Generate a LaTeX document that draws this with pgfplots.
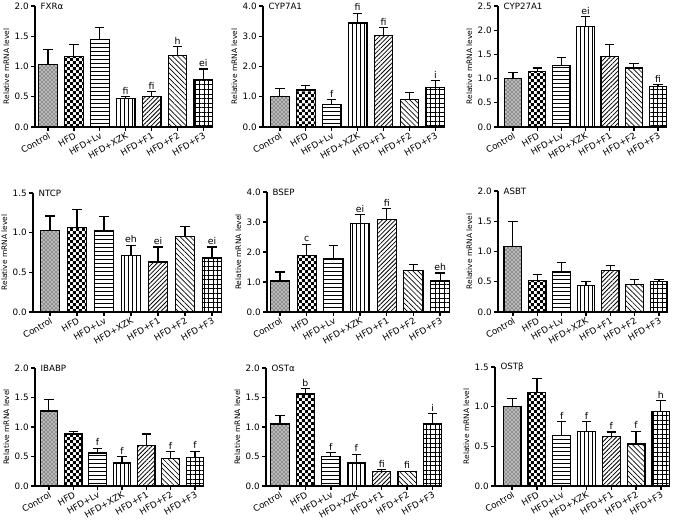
\documentclass[border=0pt]{standalone}
\usepackage{pgfplots}
\usepackage{pgfplotstable}
\pgfplotsset{compat=1.18}
\usetikzlibrary{patterns,patterns.meta}
\usepackage{fontspec}
\setmainfont{DejaVu Sans}

% small checkerboard for the HFD bars
\pgfdeclarepatternformonly{smallchecker}{\pgfpointorigin}{\pgfqpoint{4.4pt}{4.4pt}}{\pgfqpoint{4.4pt}{4.4pt}}{%
  \pgfpathrectangle{\pgfpointorigin}{\pgfqpoint{2.2pt}{2.2pt}}%
  \pgfpathrectangle{\pgfqpoint{2.2pt}{2.2pt}}{\pgfqpoint{2.2pt}{2.2pt}}%
  \pgfusepath{fill}}

% columns: group position, mean, upper error, significance letters
\pgfplotstableread{
x y e lab
0 1.03 0.25 {}
1 1.16 0.20 {}
2 1.45 0.20 {}
3 0.47 0.03 fi
4 0.50 0.09 fi
5 1.18 0.15 h
6 0.79 0.17 ei
}\fxr
\pgfplotstableread{
x y e lab
0 1.02 0.24 {}
1 1.22 0.16 {}
2 0.74 0.17 f
3 3.44 0.32 fi
4 3.02 0.26 fi
5 0.92 0.21 {}
6 1.30 0.24 i
}\cypseven
\pgfplotstableread{
x y e lab
0 1.01 0.12 {}
1 1.15 0.07 {}
2 1.27 0.17 {}
3 2.07 0.21 ei
4 1.46 0.25 {}
5 1.22 0.09 {}
6 0.83 0.05 fi
}\cyptwoseven
\pgfplotstableread{
x y e lab
0 1.03 0.18 {}
1 1.07 0.22 {}
2 1.02 0.18 {}
3 0.71 0.13 eh
4 0.63 0.19 ei
5 0.95 0.13 {}
6 0.68 0.14 ei
}\ntcp
\pgfplotstableread{
x y e lab
0 1.03 0.30 {}
1 1.87 0.39 c
2 1.77 0.45 {}
3 2.94 0.31 ei
4 3.07 0.38 fi
5 1.39 0.20 {}
6 1.03 0.27 eh
}\bsep
\pgfplotstableread{
x y e lab
0 1.08 0.42 {}
1 0.52 0.10 {}
2 0.66 0.16 {}
3 0.44 0.07 {}
4 0.69 0.08 {}
5 0.46 0.08 {}
6 0.51 0.03 {}
}\asbt
\pgfplotstableread{
x y e lab
0 1.27 0.19 {}
1 0.88 0.04 {}
2 0.56 0.08 f
3 0.39 0.11 f
4 0.69 0.19 {}
5 0.47 0.11 f
6 0.48 0.11 f
}\ibabp
\pgfplotstableread{
x y e lab
0 1.05 0.14 {}
1 1.56 0.09 b
2 0.50 0.07 f
3 0.39 0.15 f
4 0.24 0.04 fi
5 0.25 0.00 fi
6 1.05 0.18 i
}\osta
\pgfplotstableread{
x y e lab
0 1.00 0.10 {}
1 1.18 0.17 {}
2 0.64 0.17 f
3 0.69 0.12 f
4 0.62 0.06 f
5 0.53 0.16 f
6 0.94 0.14 h
}\ostb

\pgfplotsset{
  b0/.style={fill=gray!55, postaction={pattern=crosshatch dots, pattern color=black}},
  b1/.style={pattern=smallchecker},
  b2/.style={pattern=horizontal lines},
  b3/.style={pattern=vertical lines},
  b4/.style={pattern={Lines[angle=45, distance=2.3pt, line width=0.6pt]}},
  b5/.style={pattern={Lines[angle=-45, distance=2.7pt, line width=0.5pt]}},
  b6/.style={pattern={Hatch[angle=0, distance=3.4pt, line width=0.45pt]}},
}

% #1,#2 origin (pt), #3 width, #4 height, #5 xmin, #6 ymax, #7 tick step, #8 title, #9 table
\newcommand{\panel}[9]{%
\begin{axis}[
    at={(#1pt,#2pt)}, anchor=south west,
    scale only axis, width=#3pt, height=#4pt,
    xmin=#5, xmax=6.37, ymin=0, ymax=#6,
    ytick distance=#7,
    xtick={0,...,6},
    xticklabels={Control,HFD,HFD+Lv,HFD+XZK,HFD+F1,HFD+F2,HFD+F3},
    axis lines*=left, tick align=outside,
    axis line style={line width=1pt},
    major tick style={line width=1pt, black},
    major tick length=3pt,
    clip=false,
    ylabel={Relative mRNA level},
    every axis y label/.style={at={(rel axis cs:0,0.5)}, xshift=-21.5pt, rotate=90,
      anchor=center, font=\fontsize{5.6}{6}\selectfont, inner sep=0pt},
    tick label style={font=\fontsize{6.6}{8}\selectfont},
    xticklabel style={rotate=30, anchor=north east, inner sep=0.5pt},
    yticklabel style={inner sep=1.5pt, /pgf/number format/.cd, fixed, fixed zerofill, precision=1, assume math mode=true},
  ]
  \pgfplotsinvokeforeach{0,...,6}{
    \addplot[ybar, bar shift=0pt, bar width=0.72, draw=black, line width=0.9pt, b##1,
      restrict x to domain=##1:##1,
      error bars/.cd, y dir=plus, y explicit,
      error bar style={line width=0.9pt, black, solid},
      error mark options={rotate=90, mark size=3.5pt, line width=0.9pt, black}]
      table[x=x, y=y, y error=e] {#9};
  }
  \addplot[draw=none, nodes near coords, point meta=explicit symbolic,
    nodes near coords style={font=\fontsize{7}{8}\selectfont, anchor=south, inner sep=1.5pt}]
    table[x=x, y expr=\thisrow{y}+\thisrow{e}, meta=lab] {#9};
  \node[anchor=west, inner sep=0pt, xshift=4pt, font=\fontsize{6.5}{7}\selectfont] at (rel axis cs:0,1) {#8};
\end{axis}}

\begin{document}
\begin{tikzpicture}
\useasboundingbox (0,0) rectangle (513.75pt,390pt);
\panel{26.25}{294.75}{133.5}{90.75}{-0.5}{2}{0.5}{FXRα}{\fxr}
\panel{197.25}{294.75}{136.5}{90.75}{-0.65}{4}{1}{CYP7A1}{\cypseven}
\panel{373.5}{294.75}{126.75}{90.75}{-0.62}{2.5}{0.5}{CYP27A1}{\cyptwoseven}
\panel{24.75}{156}{141.75}{89.25}{-0.63}{1.5}{0.5}{NTCP}{\ntcp}
\panel{200.25}{156}{137.25}{90}{-0.49}{4}{1}{BSEP}{\bsep}
\panel{373.5}{156}{127.5}{90.75}{-0.61}{2}{0.5}{ASBT}{\asbt}
\panel{26.25}{25.5}{126.75}{88.5}{-0.57}{2}{0.5}{IBABP}{\ibabp}
\panel{199.5}{25.5}{132}{88.5}{-0.55}{2}{0.5}{OSTα}{\osta}
\panel{371.25}{25.5}{131.25}{89.25}{-0.69}{1.5}{0.5}{OSTβ}{\ostb}
\end{tikzpicture}
\end{document}
